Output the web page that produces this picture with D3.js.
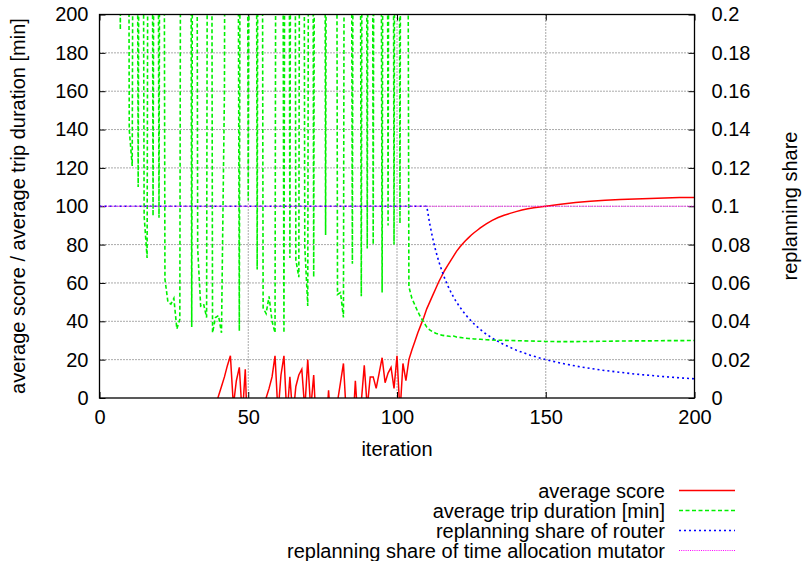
<!DOCTYPE html>
<html><head><meta charset="utf-8">
<script src="https://cdn.jsdelivr.net/npm/d3@7"></script>
<style>
html,body{margin:0;padding:0;background:#fff;}
text{font-family:"Liberation Sans",Arial,sans-serif;fill:#000;}
</style></head>
<body>
<svg id="chart" width="804" height="561"></svg>
<script>
// ---- data ----
const xTicks = [0, 50, 100, 150, 200];
const yTicks = [0, 20, 40, 60, 80, 100, 120, 140, 160, 180, 200];
const y2Ticks = [0, 0.02, 0.04, 0.06, 0.08, 0.1, 0.12, 0.14, 0.16, 0.18, 0.2];
const y2TickLabels = ["0", "0.02", "0.04", "0.06", "0.08", "0.1", "0.12", "0.14", "0.16", "0.18", "0.2"];
const seriesNames = ["average score", "average trip duration [min]", "replanning share of router", "replanning share of time allocation mutator"];

// average score, iterations 0..103
const scoreEarly = [
  -60,-60,-60,-60,-60,-60,-60,-60,-60,-60,
  -60,-60,-60,-60,-60,-60,-60,-60,-60,-60,
  -60,-60,-60,-60,-60,-60,-60,-60,-60,-60,
  -60,-60,-60,-60,-60,-60,-60,-60,-60,-4,
  1,6,11,17,22,-4,9,16,-10,15,
  -30,-60,-60,-60,-60,-6,0,5,11,22,
  -8,12,22,-10,11,-10,6,12,15,-6,
  20,-6,12,-20,-60,-60,-20,4,-20,-60,
  -2,8,18,-10,-40,-20,9,-15,-2,17,
  -5,11,11,5,13,21,8,13,16,5,
  22,-8,18,9];
const scoreTailIter = [104,105,106,107,108,109,110,111,112,113,114,115,116,117,118,119,120,121,122,123,124,125,126,127,128,129,130,132,134,136,138,140,142,144,146,148,150,155,160,165,170,175,180,185,190,195,200];
const scoreTailVal  = [20,25,29.5,34,38,42,46.5,50,53.5,57,60.5,63.5,66.5,69,71.5,74,76.5,78.5,80.3,82,83.5,85,86.3,87.5,88.7,89.8,90.8,92.6,94.1,95.3,96.3,97.2,98,98.7,99.2,99.6,100,101,102,102.6,103.1,103.5,103.8,104.1,104.3,104.5,104.6];

// average trip duration [min], iterations 0..103
const tripEarly = [
  1500,1300,1100,1000,900,800,700,192,600,900,
  140,121,700,110,700,95,73,800,95,700,
  94,800,62,50,49,52,36,41,900,700,
  900,37,900,78,48,49,42,900,34,42,
  43,34,160,900,700,900,600,35,900,700,
  103,600,900,67,900,47,44,53,40,34,
  900,700,34,900,73,900,72,63,900,79,
  48,900,63,900,700,900,85,900,600,900,
  54,55,42,900,700,70,900,700,53,900,
  78,900,80,900,700,55,900,90,900,80,
  900,91,900,700];
const tripTailIter = [104,105,106,107,108,109,110,111,112,113,114,115,116,117,118,119,120,122,124,126,128,130,135,140,145,150,155,160,165,170,175,180,185,190,195,200];
const tripTailVal  = [58,52,48.5,45,42,39.5,37,35.5,34.5,33.8,33.2,32.8,32.5,32.3,32.1,32.3,31.8,31.4,31,30.8,30.6,30.4,30.1,29.9,29.7,29.5,29.4,29.4,29.5,29.6,29.7,29.8,29.8,29.9,29.9,30];

// replanning share of router (right axis)
const routerIter = [0,110,111,112,113,114,115,116,117,118,119,120,122,124,126,128,130,133,136,140,145,150,155,160,165,170,180,190,200];
const routerVal  = [0.1,0.1,0.0909,0.0833,0.0769,0.0714,0.0667,0.0625,0.0588,0.0556,0.0526,0.05,0.0455,0.0417,0.0385,0.0357,0.0333,0.0303,0.0278,0.025,0.0222,0.02,0.0182,0.0167,0.0154,0.0143,0.0125,0.0111,0.01];

// replanning share of time allocation mutator (right axis)
const mutatorIter = [0, 200];
const mutatorVal  = [0.1, 0.1];

// ---- layout ----
const FS = 20;
const L = 99.5, R = 694.5, T = 14.5, B = 398;
const svg = d3.select("#chart");
const x = d3.scaleLinear().domain([0, 200]).range([L, R]);
const y = d3.scaleLinear().domain([0, 200]).range([B, T]);
const y2 = d3.scaleLinear().domain([0, 0.2]).range([B, T]);

// grid
const grid = svg.append("g");
grid.selectAll("line.gx").data(xTicks.filter(d => d > 0 && d < 200)).enter().append("line")
  .attr("x1", d => x(d)).attr("x2", d => x(d)).attr("y1", T).attr("y2", B)
  .attr("stroke", "#555").attr("stroke-width", 1).attr("stroke-dasharray", "1,2");
grid.selectAll("line.gy").data(yTicks.filter(d => d > 0 && d < 200)).enter().append("line")
  .attr("y1", d => y(d)).attr("y2", d => y(d)).attr("x1", L).attr("x2", R)
  .attr("stroke", "#555").attr("stroke-width", 1).attr("stroke-dasharray", "1,2");

// axes (ticks inward)
const tl = 6;
const fontAttr = g => g.selectAll("text").attr("font-size", FS).attr("font-family", "Liberation Sans, Arial, sans-serif");
svg.append("g").attr("transform", `translate(0,${B})`)
  .call(d3.axisBottom(x).tickValues(xTicks).tickSize(-tl).tickPadding(12).tickSizeOuter(0))
  .call(g => g.select(".domain").remove()).call(fontAttr);
svg.append("g").attr("transform", `translate(0,${T})`)
  .call(d3.axisTop(x).tickValues(xTicks).tickSize(-tl).tickFormat("").tickSizeOuter(0))
  .call(g => g.select(".domain").remove());
svg.append("g").attr("transform", `translate(${L},0)`)
  .call(d3.axisLeft(y).tickValues(yTicks).tickSize(-tl).tickPadding(11).tickSizeOuter(0))
  .call(g => g.select(".domain").remove()).call(fontAttr);
svg.append("g").attr("transform", `translate(${R},0)`)
  .call(d3.axisRight(y2).tickValues(y2Ticks).tickSize(-tl).tickPadding(17).tickSizeOuter(0)
    .tickFormat((d, i) => y2TickLabels[i]))
  .call(g => g.select(".domain").remove()).call(fontAttr);

// clip
svg.append("clipPath").attr("id", "plotclip").append("rect")
  .attr("x", L).attr("y", T).attr("width", R - L).attr("height", B - T);
const plot = svg.append("g").attr("clip-path", "url(#plotclip)");

const scorePts = scoreEarly.map((v, i) => [i, v]).concat(scoreTailIter.map((it, i) => [it, scoreTailVal[i]]));
const tripPts = tripEarly.map((v, i) => [i, v]).concat(tripTailIter.map((it, i) => [it, tripTailVal[i]]));
const routerPts = routerIter.map((it, i) => [it, routerVal[i]]);
const mutatorPts = mutatorIter.map((it, i) => [it, mutatorVal[i]]);

const lineL = d3.line().x(d => x(d[0])).y(d => y(d[1]));
const lineR = d3.line().x(d => x(d[0])).y(d => y2(d[1]));

const styles = [
  {color: "#ff0000", dash: null, w: 1.5},
  {color: "#00f000", dash: "4,2.5", w: 1.6},
  {color: "#0000ff", dash: "2,3", w: 1.6},
  {color: "#ff00ff", dash: "1,1.2", w: 1.2}
];

plot.append("path").attr("d", lineL(scorePts)).attr("fill", "none")
  .attr("stroke", styles[0].color).attr("stroke-width", styles[0].w);
plot.append("path").attr("d", lineL(tripPts)).attr("fill", "none")
  .attr("stroke", styles[1].color).attr("stroke-width", styles[1].w).attr("stroke-dasharray", styles[1].dash);
plot.append("path").attr("d", lineR(routerPts)).attr("fill", "none")
  .attr("stroke", styles[2].color).attr("stroke-width", styles[2].w).attr("stroke-dasharray", styles[2].dash);
plot.append("path").attr("d", lineR(mutatorPts)).attr("fill", "none")
  .attr("stroke", styles[3].color).attr("stroke-width", styles[3].w).attr("stroke-dasharray", styles[3].dash);

// border
svg.append("rect").attr("x", L).attr("y", T).attr("width", R - L).attr("height", B - T)
  .attr("fill", "none").attr("stroke", "#000").attr("stroke-width", 1.3);

// axis titles
svg.append("text").attr("x", 397).attr("y", 456).attr("text-anchor", "middle").attr("font-size", FS).text("iteration");
svg.append("text").attr("transform", "translate(25,206) rotate(-90)").attr("text-anchor", "middle").attr("font-size", FS)
  .text("average score / average trip duration [min]");
svg.append("text").attr("transform", "translate(797,206) rotate(-90)").attr("text-anchor", "middle").attr("font-size", FS)
  .text("replanning share");

// legend
const leg = svg.append("g");
seriesNames.forEach((name, i) => {
  const cy = 490.5 + i * 20;
  leg.append("text").attr("x", 665).attr("y", cy).attr("dy", "0.35em").attr("text-anchor", "end")
    .attr("font-size", FS).text(name);
  leg.append("line").attr("x1", 679).attr("x2", 735).attr("y1", cy).attr("y2", cy)
    .attr("stroke", styles[i].color).attr("stroke-width", styles[i].w)
    .attr("stroke-dasharray", styles[i].dash);
});
</script>
</body></html>
